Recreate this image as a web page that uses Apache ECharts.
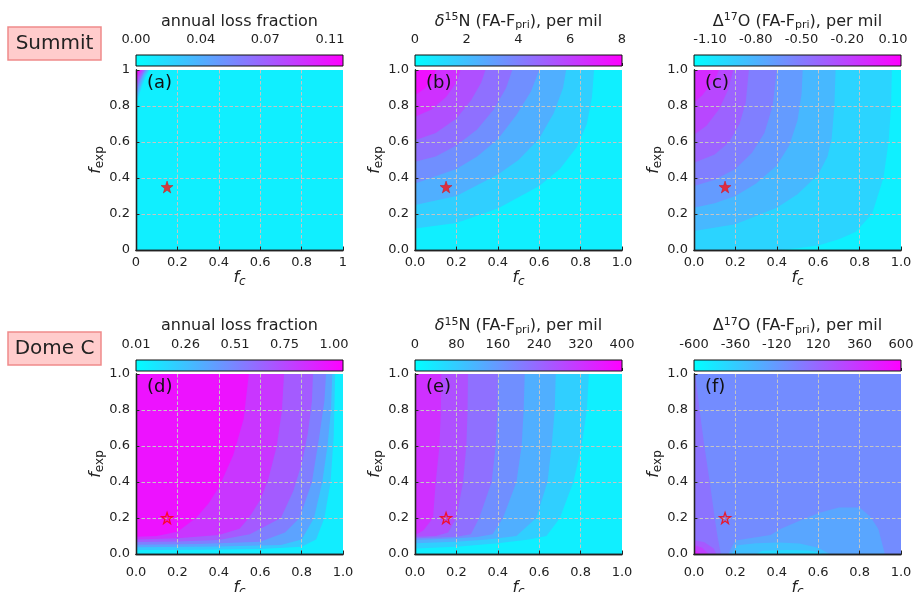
<!DOCTYPE html>
<html>
<head>
<meta charset="utf-8">
<script src="https://cdn.jsdelivr.net/npm/echarts@6/dist/echarts.min.js"></script>
<style>
html, body { margin: 0; background: #fff; }
#chart { width: 915px; height: 592px; }
</style>
</head>
<body>
<div id="chart"></div>
<script>
// ---- data ----
const stations = ["Summit", "Dome C"];
const panelLabels = ["(a)", "(b)", "(c)", "(d)", "(e)", "(f)"];
const starFc = [0.15, 0.15];     // per row
const starFexp = [0.35, 0.2];

// (a) Summit, annual loss fraction
const rangeA = [0, 0.1174];
const cbTicksA = [0, 0.0367, 0.0733, 0.11];
const levelsA = [0.015, 0.03, 0.045, 0.06, 0.075, 0.09, 0.105];
const curvesA = [
  [[0, 0.8], [0.012, 0.85], [0.028, 0.91], [0.048, 0.965], [0.065, 1]],
  [[0, 0.83], [0.012, 0.875], [0.025, 0.925], [0.043, 0.975], [0.058, 1]],
  [[0, 0.855], [0.011, 0.9], [0.022, 0.94], [0.037, 0.98], [0.05, 1]],
  [[0, 0.88], [0.011, 0.92], [0.022, 0.955], [0.043, 1]],
  [[0, 0.905], [0.01, 0.94], [0.019, 0.97], [0.036, 1]],
  [[0, 0.93], [0.009, 0.96], [0.017, 0.98], [0.028, 1]],
  [[0, 0.955], [0.009, 0.98], [0.02, 1]]
];

// (b) Summit, d15N
const rangeB = [0, 8];
const cbTicksB = [0, 2, 4, 6, 8];
const levelsB = [1, 2, 3, 4, 5, 6, 7];
const curvesB = [
  [[0, 0.12], [0.2, 0.15], [0.4, 0.23], [0.6, 0.355], [0.7, 0.45], [0.78, 0.57], [0.83, 0.7], [0.855, 0.85], [0.865, 1]],
  [[0, 0.25], [0.2, 0.3], [0.4, 0.42], [0.5, 0.5], [0.6, 0.62], [0.67, 0.76], [0.715, 0.9], [0.73, 1]],
  [[0, 0.37], [0.2, 0.45], [0.3, 0.52], [0.4, 0.615], [0.49, 0.75], [0.56, 0.88], [0.6, 1]],
  [[0, 0.49], [0.1, 0.52], [0.2, 0.58], [0.3, 0.67], [0.38, 0.78], [0.44, 0.9], [0.47, 1]],
  [[0, 0.61], [0.1, 0.65], [0.2, 0.73], [0.27, 0.83], [0.32, 0.93], [0.34, 1]],
  [[0, 0.74], [0.08, 0.78], [0.15, 0.85], [0.2, 0.93], [0.22, 1]],
  [[0, 0.86], [0.05, 0.9], [0.09, 0.96], [0.1, 1]]
];

// (c) Summit, D17O
const rangeC = [-1.205, 0.152];
const cbTicksC = [-1.1, -0.8, -0.5, -0.2, 0.1];
const levelsC = [-1.05, -0.9, -0.75, -0.6, -0.45, -0.3, -0.15, 0];
const curvesC = [
  [[0.405, 0], [0.5, 0.01], [0.6, 0.025], [0.7, 0.06], [0.78, 0.1], [0.86, 0.2], [0.915, 0.4], [0.94, 0.6], [0.952, 0.8], [0.956, 1]],
  [[0, 0.105], [0.2, 0.143], [0.4, 0.235], [0.5, 0.31], [0.6, 0.42], [0.645, 0.52], [0.665, 0.62], [0.678, 0.8], [0.684, 1]],
  [[0, 0.235], [0.1, 0.26], [0.2, 0.3], [0.3, 0.37], [0.4, 0.47], [0.46, 0.58], [0.5, 0.72], [0.52, 0.87], [0.525, 1]],
  [[0, 0.355], [0.1, 0.39], [0.2, 0.45], [0.28, 0.54], [0.34, 0.65], [0.38, 0.8], [0.4, 1]],
  [[0, 0.485], [0.1, 0.53], [0.17, 0.6], [0.22, 0.7], [0.25, 0.82], [0.265, 1]],
  [[0, 0.64], [0.06, 0.69], [0.12, 0.78], [0.165, 0.89], [0.19, 1]],
  [[0, 0.82], [0.04, 0.86], [0.08, 0.92], [0.11, 0.97], [0.12, 1]]
];

// (d) Dome C, annual loss fraction
const rangeD = [0.01, 1.045];
const cbTicksD = [0.01, 0.2575, 0.505, 0.7525, 1.0];
const levelsD = [0.16, 0.31, 0.46, 0.6, 0.75, 0.9];
const curvesD = [
  [[0, 0.022], [0.3, 0.024], [0.6, 0.028], [0.8, 0.04], [0.87, 0.08], [0.91, 0.2], [0.94, 0.4], [0.955, 0.65], [0.962, 1]],
  [[0, 0.038], [0.4, 0.042], [0.7, 0.05], [0.8, 0.08], [0.86, 0.2], [0.9, 0.4], [0.925, 0.6], [0.942, 0.8], [0.948, 1]],
  [[0, 0.052], [0.3, 0.056], [0.6, 0.068], [0.72, 0.12], [0.79, 0.2], [0.85, 0.4], [0.885, 0.65], [0.91, 0.85], [0.918, 1]],
  [[0, 0.066], [0.2, 0.07], [0.4, 0.078], [0.55, 0.11], [0.7, 0.2], [0.76, 0.35], [0.8, 0.5], [0.83, 0.67], [0.85, 0.85], [0.855, 1]],
  [[0, 0.08], [0.2, 0.087], [0.4, 0.105], [0.5, 0.14], [0.545, 0.2], [0.6, 0.3], [0.64, 0.42], [0.68, 0.6], [0.705, 0.8], [0.715, 1]],
  [[0, 0.096], [0.1, 0.1], [0.2, 0.124], [0.29, 0.2], [0.35, 0.28], [0.4, 0.37], [0.47, 0.55], [0.52, 0.75], [0.545, 1]]
];

// (e) Dome C, d15N
const rangeE = [0, 400];
const cbTicksE = [0, 80, 160, 240, 320, 400];
const levelsE = [50, 100, 150, 200, 250, 300, 350];
const curvesE = [
  [[0, 0.03], [0.2, 0.04], [0.4, 0.06], [0.55, 0.08], [0.635, 0.1], [0.7, 0.2], [0.765, 0.4], [0.805, 0.6], [0.83, 0.8], [0.84, 1]],
  [[0, 0.06], [0.2, 0.068], [0.35, 0.08], [0.49, 0.1], [0.585, 0.2], [0.64, 0.4], [0.66, 0.6], [0.675, 0.8], [0.68, 1]],
  [[0, 0.078], [0.2, 0.087], [0.3, 0.095], [0.375, 0.11], [0.425, 0.2], [0.49, 0.4], [0.515, 0.6], [0.525, 0.8], [0.53, 1]],
  [[0, 0.087], [0.2, 0.096], [0.27, 0.11], [0.31, 0.2], [0.37, 0.4], [0.39, 0.6], [0.398, 0.8], [0.4, 1]],
  [[0, 0.096], [0.1, 0.1], [0.16, 0.12], [0.2, 0.2], [0.232, 0.4], [0.248, 0.6], [0.254, 0.8], [0.256, 1]],
  [[0, 0.105], [0.04, 0.13], [0.087, 0.2], [0.1, 0.4], [0.118, 0.6], [0.125, 0.8], [0.127, 1]]
];

// (f) Dome C, D17O
const rangeF = [-600, 600];
const cbTicksF = [-600, -360, -120, 120, 360, 600];
const fBaseValue = -60;
const fRegionValues = [60, 180, 300, 420, -180, -300, -420];
const fRegionShapes = [
  [[0, 1], [0.006, 1], [0.027, 0.8], [0.05, 0.6], [0.076, 0.4], [0.1, 0.2], [0.113, 0.1], [0.13, 0], [0, 0]],
  [[0, 0], [0, 0.078], [0.05, 0.065], [0.095, 0.03], [0.108, 0]],
  [[0, 0], [0, 0.05], [0.04, 0.035], [0.07, 0]],
  [[0, 0], [0, 0.025], [0.035, 0]],
  [[0.165, 0], [0.2, 0.075], [0.37, 0.105], [0.42, 0.14], [0.51, 0.185], [0.61, 0.23], [0.7, 0.258], [0.8, 0.258], [0.85, 0.21], [0.89, 0.14], [0.922, 0]],
  [[0.18, 0], [0.21, 0.048], [0.3, 0.06], [0.41, 0.064], [0.51, 0.058], [0.6, 0.035], [0.655, 0]],
  [[0.3, 0], [0.33, 0.018], [0.45, 0.022], [0.55, 0.02], [0.6, 0.01], [0.62, 0]]
];

// ---- helpers ----
const FONT = "DejaVu Sans";
const TXT = "#222";
const FULL = [[0, 0], [1, 0], [1, 1], [0, 1]];

function cool(t) {
  t = Math.max(0, Math.min(1, t));
  return "rgb(" + Math.round(255 * t) + "," + Math.round(255 * (1 - t)) + ",255)";
}

// region above-left of each contour line, painted in increasing order
function layersFromCurves(range, levels, curves) {
  const out = [{ v: (range[0] + levels[0]) / 2, pts: FULL }];
  curves.forEach((c, k) => {
    const hi = k + 1 < levels.length ? levels[k + 1] : range[1];
    const pts = c.slice();
    pts.push([0, 1]);
    if (c[0][0] !== 0) pts.push([0, 0]);
    out.push({ v: (levels[k] + hi) / 2, pts: pts });
  });
  return out;
}

const layersF = [{ v: fBaseValue, pts: FULL }].concat(
  fRegionValues.map((v, k) => ({ v: v, pts: fRegionShapes[k] }))
);

const supSub = {
  sup: { fontSize: 11, fontFamily: FONT, color: TXT, padding: [0, 0, 8, 0] },
  sub: { fontSize: 11, fontFamily: FONT, color: TXT, padding: [8, 0, 0, 0] },
  d: { fontSize: 16, fontFamily: FONT, color: TXT, fontStyle: "italic" }
};
const titleLoss = "annual loss fraction";
const titleN = "{d|δ}{sup|15}N (FA-F{sub|pri}), per mil";
const titleO = "Δ{sup|17}O (FA-F{sub|pri}), per mil";

const fmt2 = v => v.toFixed(2);
const fmt0 = v => String(Math.round(v));
const fmtPlain = v => (Math.abs(v) < 1e-9 || Math.abs(v - 1) < 1e-9) ? String(Math.round(v)) : v.toFixed(1);
const fmt1 = v => v.toFixed(1);

const panels = [
  { range: rangeA, ticks: cbTicksA, layers: layersFromCurves(rangeA, levelsA, curvesA), cbFmt: fmt2, axFmt: fmtPlain, title: titleLoss },
  { range: rangeB, ticks: cbTicksB, layers: layersFromCurves(rangeB, levelsB, curvesB), cbFmt: fmt0, axFmt: fmt1, title: titleN },
  { range: rangeC, ticks: cbTicksC, layers: layersFromCurves(rangeC, levelsC, curvesC), cbFmt: fmt2, axFmt: fmt1, title: titleO },
  { range: rangeD, ticks: cbTicksD, layers: layersFromCurves(rangeD, levelsD, curvesD), cbFmt: fmt2, axFmt: fmt1, title: titleLoss },
  { range: rangeE, ticks: cbTicksE, layers: layersFromCurves(rangeE, levelsE, curvesE), cbFmt: fmt0, axFmt: fmt1, title: titleN },
  { range: rangeF, ticks: cbTicksF, layers: layersF, cbFmt: fmt0, axFmt: fmt1, title: titleO }
];

// layout (pixels)
const plotLefts = [136, 415, 694];
const plotTops = [70, 374];
const plotW = 207, plotH = 180;
const cbTops = [55, 360];
const cbH = 11;
const titleYs = [21.5, 326];
const xLabelMargins = [6, 12];
const xNameGaps = [16, 23];

const chart = echarts.init(document.getElementById("chart"));
const option = {
  animation: false,
  textStyle: { fontFamily: FONT },
  grid: [], xAxis: [], yAxis: [], series: [], graphic: []
};

const starPath = "path://M0,-10L2.35,-3.24L9.51,-3.09L3.8,1.24L5.88,8.09L0,4L-5.88,8.09L-3.8,1.24L-9.51,-3.09L-2.35,-3.24Z";
const frameLine = { show: true, lineStyle: { color: "#222", width: 1.3 } };
const gridDash = { show: true, showMinLine: false, showMaxLine: false, lineStyle: { color: "#c4c4c4", width: 1, type: [3.5, 2] } };
const labelBase = { color: TXT, fontSize: 13, fontFamily: FONT };

panels.forEach((p, i) => {
  const col = i % 3, row = Math.floor(i / 3);
  const left = plotLefts[col], top = plotTops[row];
  const g = 2 * i, a = 3 * i;

  option.grid.push({ left: left, top: top, width: plotW, height: plotH, outerBoundsMode: "none" });
  option.grid.push({ left: left, top: cbTops[row], width: plotW, height: cbH, outerBoundsMode: "none" });

  // main axes
  option.xAxis.push({
    gridIndex: g, type: "value", min: 0, max: 1, interval: 0.2, position: "bottom", z: 5,
    axisLine: frameLine,
    axisTick: { show: true, inside: true, length: 3.5, lineStyle: { color: "#222" } },
    axisLabel: Object.assign({ margin: xLabelMargins[row], formatter: p.axFmt }, labelBase),
    splitLine: gridDash,
    name: "{f|f}{s|c}", nameLocation: "middle", nameGap: xNameGaps[row],
    nameTextStyle: { rich: {
      f: { fontSize: 16, fontStyle: "italic", fontFamily: FONT, color: TXT },
      s: { fontSize: 12, fontStyle: "italic", fontFamily: FONT, color: TXT, padding: [8, 0, 0, 0] }
    } }
  });
  option.xAxis.push({
    gridIndex: g, type: "value", min: 0, max: 1, position: "top", z: 6,
    axisLine: frameLine, axisTick: { show: false }, axisLabel: { show: false }, splitLine: { show: false }
  });
  option.xAxis.push({
    gridIndex: g + 1, type: "value", min: p.range[0], max: p.range[1], position: "top",
    axisLine: { show: false },
    axisTick: { show: true, inside: false, length: 3, customValues: p.ticks, lineStyle: { color: "#222" } },
    axisLabel: Object.assign({ margin: 9, customValues: p.ticks, formatter: p.cbFmt }, labelBase),
    splitLine: { show: false }
  });
  option.yAxis.push({
    gridIndex: g, type: "value", min: 0, max: 1, interval: 0.2, position: "left", z: 5,
    axisLine: frameLine,
    axisTick: { show: true, inside: true, length: 3.5, lineStyle: { color: "#222" } },
    axisLabel: Object.assign({ margin: 6, formatter: p.axFmt }, labelBase),
    splitLine: gridDash,
    name: "{f|f}{s|exp}", nameLocation: "middle", nameGap: 30,
    nameTextStyle: { rich: {
      f: { fontSize: 16, fontStyle: "italic", fontFamily: FONT, color: TXT },
      s: { fontSize: 12, fontFamily: FONT, color: TXT, padding: [8, 0, 0, 0] }
    } }
  });
  option.yAxis.push({
    gridIndex: g, type: "value", min: 0, max: 1, position: "right", z: 6,
    axisLine: frameLine, axisTick: { show: false }, axisLabel: { show: false }, splitLine: { show: false }
  });
  option.yAxis.push({ gridIndex: g + 1, type: "value", min: 0, max: 1, show: false });

  // filled contour bands
  const layers = p.layers, range = p.range;
  option.series.push({
    type: "custom", xAxisIndex: a, yAxisIndex: a, silent: true, z: 2,
    data: layers.map((l, j) => [0.5, 0.5, j]),
    encode: { x: 0, y: 1 },
    renderItem: function (params, api) {
      const layer = layers[api.value(2)];
      return {
        type: "polygon",
        shape: { points: layer.pts.map(pt => api.coord(pt)) },
        style: { fill: cool((layer.v - range[0]) / (range[1] - range[0])), stroke: null }
      };
    }
  });

  // star marker
  option.series.push({
    type: "scatter", xAxisIndex: a, yAxisIndex: a, z: 10, silent: true,
    symbol: starPath, symbolSize: row === 0 ? 12 : 11,
    data: [[starFc[row], starFexp[row]]],
    itemStyle: row === 0
      ? { color: "#ff1010", borderColor: "#e00000", borderWidth: 0.5 }
      : { color: "rgba(255,40,40,0.2)", borderColor: "#ff0000", borderWidth: 1.3 }
  });

  // colour bar
  option.series.push({
    type: "custom", xAxisIndex: a + 2, yAxisIndex: a + 2, silent: true,
    data: [[range[0], 0]],
    renderItem: function (params, api) {
      const p0 = api.coord([range[0], 1]);
      const p1 = api.coord([range[1], 0]);
      return {
        type: "rect",
        shape: { x: p0[0], y: p0[1], width: p1[0] - p0[0], height: p1[1] - p0[1] },
        style: {
          fill: new echarts.graphic.LinearGradient(0, 0, 1, 0, [
            { offset: 0, color: "#00ffff" }, { offset: 1, color: "#ff00ff" }
          ]),
          stroke: "#111", lineWidth: 1
        }
      };
    }
  });

  // colour bar title and panel letter
  option.graphic.push({
    type: "text", x: left + plotW / 2, y: titleYs[row], z: 100,
    style: { text: p.title, fontSize: 16, fontFamily: FONT, fill: TXT, align: "center", verticalAlign: "middle", rich: supSub }
  });
  option.graphic.push({
    type: "text", x: left + 11, y: top + 13, z: 100,
    style: { text: panelLabels[i], fontSize: 18, fontFamily: FONT, fill: "#111", align: "left", verticalAlign: "middle" }
  });
});

// station boxes
const boxTops = [27, 332];
stations.forEach((s, r) => {
  option.graphic.push({
    type: "rect", z: 100,
    shape: { x: 8, y: boxTops[r], width: 93, height: 33 },
    style: { fill: "#ffcccc", stroke: "#f08a8a", lineWidth: 1.5 }
  });
  option.graphic.push({
    type: "text", x: 54.5, y: boxTops[r] + 16.5, z: 101,
    style: { text: s, fontSize: 20, fontFamily: FONT, fill: TXT, align: "center", verticalAlign: "middle" }
  });
});

chart.setOption(option);
</script>
</body>
</html>
